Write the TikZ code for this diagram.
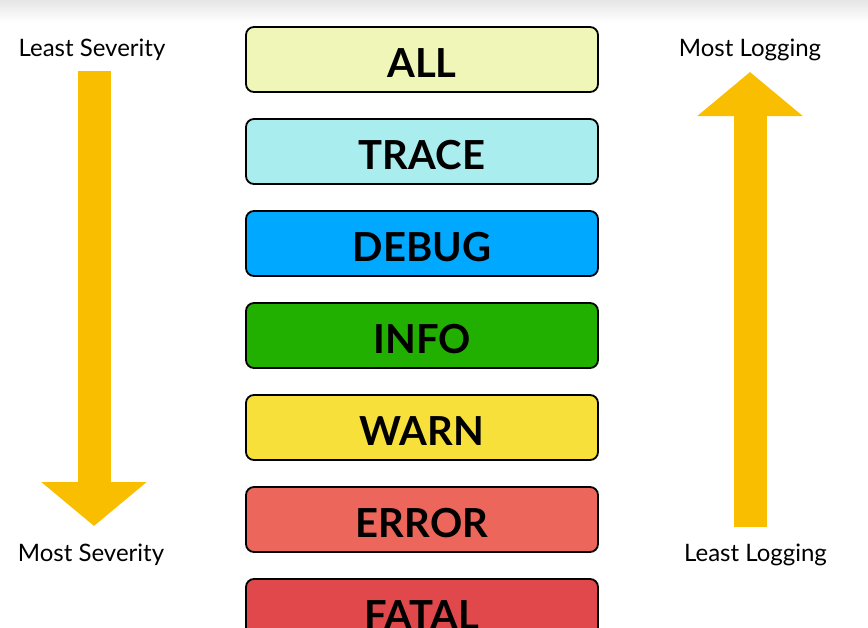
\documentclass[tikz,border=0pt]{standalone}
\usepackage{fontspec}
\setmainfont{Lato}
\usetikzlibrary{arrows.meta}

\definecolor{allcol}{HTML}{EFF6B8}
\definecolor{tracecol}{HTML}{AAEDEE}
\definecolor{debugcol}{HTML}{00A8FF}
\definecolor{infocol}{HTML}{22B000}
\definecolor{warncol}{HTML}{F8E03B}
\definecolor{errorcol}{HTML}{EC665B}
\definecolor{fatalcol}{HTML}{E0484B}
\definecolor{arrowcol}{HTML}{F9BE00}

\begin{document}
\begin{tikzpicture}[x=1pt, y=-1pt,
	level/.style={draw=black, line width=1.8pt, rounded corners=8pt, minimum width=352pt, minimum height=65pt, text height=35pt, text depth=0pt, font=\fontsize{40}{40}\selectfont\bfseries},
	side/.style={font=\fontsize{24}{28}\selectfont, inner sep=0pt},
	bigarrow/.style={draw=arrowcol, line width=33pt, -{Triangle[length=44pt, width=103pt]}}] % y grows downwards
		
		\useasboundingbox (0,0) rectangle (868,627);
		\clip (0,0) rectangle (868,627);
		
		% Faint shadow along the top edge
		\shade[top color=black!10, bottom color=white] (0,0) rectangle (868,22);
		
		% The log levels, least severe first
		\node[level, fill=allcol] (all) at (422,59.5) {ALL};
		\node[level, fill=tracecol] (trace) at (422,151.5) {TRACE};
		\node[level, fill=debugcol] (debug) at (422,243.5) {DEBUG};
		\node[level, fill=infocol] (info) at (422,335.5) {INFO};
		\node[level, fill=warncol] (warn) at (422,427.5) {WARN};
		\node[level, fill=errorcol] (error) at (422,519.5) {ERROR};
		\node[level, fill=fatalcol] (fatal) at (422,611.5) {FATAL};
		
		% Labels on both sides
		\node[side] (leastsev) at (92,50) {Least Severity};
		\node[side] (mostsev) at (91,555) {Most Severity};
		\node[side] (mostlog) at (750,50) {Most Logging};
		\node[side] (leastlog) at (755.5,555) {Least Logging};
		
		% Severity arrow, pointing down
		\coordinate (sevtop) at (94,71);
		\coordinate (sevtip) at (94,526);
		\draw[bigarrow] (sevtop) -- (sevtip);
		
		% Logging arrow, pointing up
		\coordinate (logbot) at (750,527);
		\coordinate (logtip) at (750,72);
		\draw[bigarrow] (logbot) -- (logtip);
	\end{tikzpicture}
\end{document}
